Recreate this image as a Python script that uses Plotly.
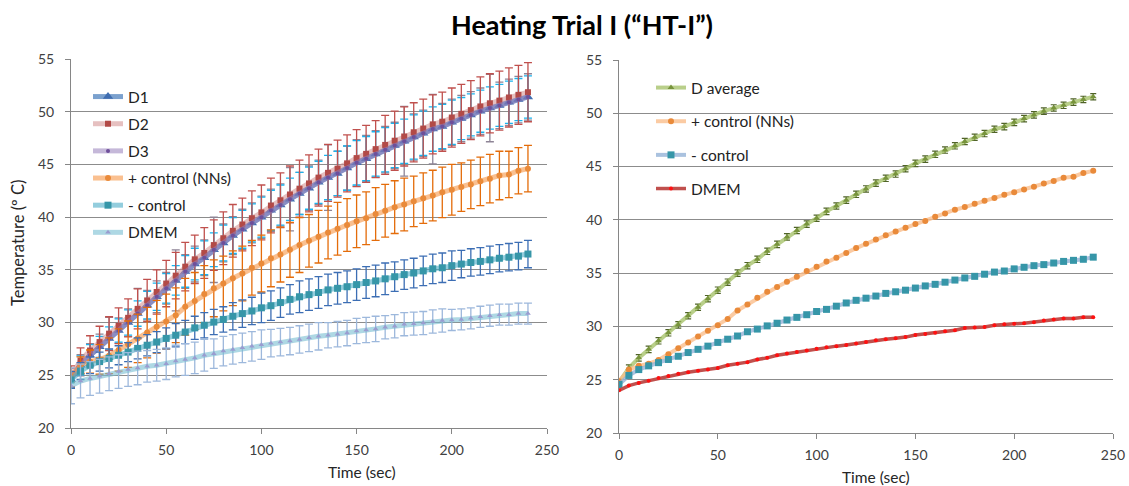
import plotly.graph_objects as go

# Sampling times (s)
time_s = list(range(0, 245, 5))

# Individual heating runs D1-D3 (deg C)
d1 = [24.6, 25.95, 26.9, 27.7, 28.5, 29.25, 30.0, 30.85, 31.65, 32.45,
      33.25, 34.0, 34.85, 35.55, 36.15, 36.9, 37.55, 38.25, 38.85, 39.45,
      40.0, 40.65, 41.15, 41.7, 42.25, 42.75, 43.3, 43.75, 44.15, 44.65,
      45.15, 45.55, 46.0, 46.4, 46.8, 47.2, 47.6, 47.95, 48.35, 48.6,
      49.0, 49.35, 49.7, 50.05, 50.35, 50.6, 50.9, 51.15, 51.4]
d2 = [24.9, 26.4, 27.35, 28.15, 28.95, 29.7, 30.45, 31.3, 32.1, 32.9,
      33.7, 34.45, 35.3, 36.0, 36.6, 37.35, 38.0, 38.7, 39.3, 39.9,
      40.45, 41.1, 41.6, 42.15, 42.7, 43.2, 43.75, 44.2, 44.6, 45.1,
      45.6, 46.0, 46.45, 46.85, 47.25, 47.65, 48.05, 48.4, 48.8, 49.05,
      49.45, 49.8, 50.15, 50.5, 50.8, 51.05, 51.35, 51.6, 51.85]
d3 = [24.75, 25.95, 26.9, 27.7, 28.5, 29.25, 30.0, 30.85, 31.65, 32.45,
      33.25, 34.0, 34.85, 35.55, 36.15, 36.9, 37.55, 38.25, 38.85, 39.45,
      40.0, 40.65, 41.15, 41.7, 42.25, 42.75, 43.3, 43.75, 44.15, 44.65,
      45.15, 45.55, 46.0, 46.4, 46.8, 47.2, 47.6, 47.95, 48.35, 48.6,
      49.0, 49.35, 49.7, 50.05, 50.35, 50.6, 50.9, 51.15, 51.4]

pos_ctrl = [24.85, 25.95, 26.3, 26.5, 26.85, 27.4, 27.95, 28.5, 29.05, 29.6,
            30.1, 30.7, 31.5, 32.05, 32.7, 33.25, 33.7, 34.2, 34.65, 35.2,
            35.6, 36.1, 36.45, 36.9, 37.35, 37.75, 38.15, 38.55, 38.9, 39.25,
            39.6, 39.9, 40.3, 40.6, 40.95, 41.2, 41.5, 41.8, 42.05, 42.35,
            42.6, 42.85, 43.1, 43.4, 43.65, 43.95, 44.05, 44.4, 44.6]
neg_ctrl = [24.55, 25.4, 25.95, 26.3, 26.6, 26.9, 27.2, 27.55, 27.85, 28.15,
            28.5, 28.8, 29.1, 29.5, 29.75, 30.05, 30.3, 30.6, 30.85, 31.1,
            31.4, 31.6, 31.9, 32.2, 32.45, 32.65, 32.85, 33.1, 33.25, 33.4,
            33.6, 33.8, 33.95, 34.15, 34.35, 34.55, 34.7, 34.9, 35.1, 35.2,
            35.4, 35.55, 35.7, 35.8, 35.95, 36.1, 36.2, 36.3, 36.5]
dmem = [24.0, 24.45, 24.7, 24.9, 25.15, 25.35, 25.55, 25.7, 25.85, 25.95,
        26.1, 26.35, 26.5, 26.65, 26.9, 27.05, 27.3, 27.45, 27.6, 27.75,
        27.9, 28.05, 28.15, 28.25, 28.4, 28.55, 28.7, 28.8, 28.9, 29.0,
        29.2, 29.3, 29.4, 29.55, 29.65, 29.85, 29.9, 29.95, 30.1, 30.2,
        30.25, 30.3, 30.4, 30.55, 30.65, 30.75, 30.75, 30.85, 30.85]

# Standard deviations
d1_err = [0.8, 0.9, 1.0, 1.0, 1.1, 1.1, 1.2, 1.2, 1.3, 1.3,
          1.4, 1.4, 1.5, 1.5, 1.6, 1.6, 1.7, 1.7, 1.8, 1.8,
          1.9, 1.9, 1.9, 2.0, 2.0, 2.0, 2.0, 2.1, 2.1, 2.1,
          2.1, 2.1, 2.1, 2.1, 2.1, 2.1, 2.1, 2.1, 2.1, 2.1,
          2.1, 2.0, 2.0, 2.0, 2.0, 2.0, 2.0, 2.0, 2.0]
d2_err = [1.0, 1.2, 1.4, 1.5, 1.6, 1.7, 1.8, 1.9, 2.0, 2.1,
          2.2, 2.2, 2.3, 2.3, 2.4, 2.4, 2.5, 2.5, 2.5, 2.6,
          2.6, 2.6, 2.6, 2.7, 2.7, 2.7, 2.7, 2.7, 2.7, 2.7,
          2.7, 2.7, 2.7, 2.8, 2.8, 2.8, 2.8, 2.8, 2.8, 2.8,
          2.8, 2.8, 2.8, 2.8, 2.8, 2.8, 2.8, 2.8, 2.8]
d3_err = [0.9, 1.0, 1.1, 1.2, 2.0, 1.2, 1.3, 2.4, 1.4, 1.5,
          1.5, 2.9, 1.6, 1.7, 1.7, 3.1, 1.8, 1.8, 1.9, 1.9,
          2.0, 2.0, 2.0, 3.0, 2.0, 2.1, 2.1, 3.1, 2.1, 2.1,
          2.2, 2.2, 2.2, 2.2, 2.2, 3.3, 2.2, 2.2, 3.3, 2.2,
          2.2, 2.2, 2.2, 2.2, 3.2, 2.2, 2.2, 2.2, 2.2]
pos_err = [0.5, 0.8, 1.1, 1.4, 1.7, 2.0, 2.2, 2.3, 2.4, 2.5,
           2.6, 2.6, 2.7, 2.7, 2.7, 2.7, 2.6, 2.6, 2.6, 2.6,
           2.7, 2.7, 2.6, 2.6, 2.6, 2.5, 2.5, 2.5, 2.5, 2.5,
           2.5, 2.5, 2.5, 2.5, 2.5, 2.5, 2.4, 2.4, 2.4, 2.4,
           2.4, 2.3, 2.3, 2.3, 2.3, 2.3, 2.2, 2.2, 2.2]
neg_err = [0.8, 0.8, 0.8, 0.9, 0.9, 0.9, 0.9, 1.0, 1.0, 1.0,
           1.0, 1.1, 1.1, 1.1, 1.2, 1.2, 1.2, 1.3, 1.3, 1.3,
           1.4, 1.4, 1.4, 1.4, 1.5, 1.5, 1.5, 1.5, 1.5, 1.5,
           1.5, 1.5, 1.5, 1.5, 1.4, 1.4, 1.4, 1.4, 1.4, 1.4,
           1.4, 1.3, 1.3, 1.3, 1.3, 1.3, 1.3, 1.3, 1.3]
dmem_err = [1.7, 1.6, 1.6, 1.6, 1.6, 1.6, 1.6, 1.6, 1.5, 1.5,
            1.5, 1.5, 1.5, 1.5, 1.5, 1.4, 1.4, 1.4, 1.4, 1.4,
            1.4, 1.3, 1.3, 1.3, 1.3, 1.3, 1.3, 1.2, 1.2, 1.2,
            1.2, 1.2, 1.2, 1.1, 1.1, 1.1, 1.1, 1.1, 1.1, 1.1,
            1.0, 1.0, 1.0, 1.0, 1.0, 1.0, 1.0, 1.0, 1.0]
davg_err = [0.3, 0.3, 0.3, 0.3, 0.3, 0.3, 0.3, 0.3, 0.3, 0.3,
            0.3, 0.3, 0.3, 0.3, 0.3, 0.3, 0.3, 0.3, 0.3, 0.3,
            0.3, 0.3, 0.3, 0.3, 0.3, 0.3, 0.3, 0.3, 0.3, 0.3,
            0.3, 0.3, 0.3, 0.3, 0.3, 0.3, 0.3, 0.3, 0.3, 0.3,
            0.3, 0.3, 0.3, 0.3, 0.3, 0.3, 0.3, 0.3, 0.3]

# Mean of the three D runs
d_avg = [round((a + b + c) / 3, 3) for a, b, c in zip(d1, d2, d3)]

FONT = "Lato"
W, H = 1129, 486

fig = go.Figure()


def err(vals, color, width=4, thick=1.3):
    return dict(type="data", array=vals, visible=True, color=color,
                thickness=thick, width=width)


# ---------------- left panel ----------------
# D3 error bars go underneath the other D series
fig.add_trace(go.Scatter(x=time_s, y=d3, mode="markers",
                         marker=dict(size=1, color="rgba(0,0,0,0)"),
                         error_y=err(d3_err, "#8E8496"),
                         showlegend=False, hoverinfo="skip",
                         xaxis="x", yaxis="y"))
fig.add_trace(go.Scatter(x=time_s, y=d1, name="D1", mode="lines+markers",
                         line=dict(color="rgba(79,129,189,0.75)", width=5),
                         marker=dict(symbol="triangle-up", size=9, color="#3F6DB0"),
                         error_y=err(d1_err, "#19B4F0"),
                         legend="legend", legendgroup="l1",
                         xaxis="x", yaxis="y"))
fig.add_trace(go.Scatter(x=time_s, y=d2, name="D2", mode="lines+markers",
                         line=dict(color="rgba(210,140,140,0.55)", width=5),
                         marker=dict(symbol="square", size=6, color="#B24A47"),
                         error_y=err(d2_err, "#C0504D"),
                         legend="legend", legendgroup="l2",
                         xaxis="x", yaxis="y"))
fig.add_trace(go.Scatter(x=time_s, y=d3, name="D3", mode="lines+markers",
                         line=dict(color="rgba(150,125,185,0.55)", width=5),
                         marker=dict(symbol="circle", size=4, color="#6E4F9A"),
                         legend="legend", legendgroup="l3",
                         xaxis="x", yaxis="y"))
fig.add_trace(go.Scatter(x=time_s, y=pos_ctrl, name="+ control (NNs)", mode="lines+markers",
                         line=dict(color="rgba(247,150,70,0.6)", width=5),
                         marker=dict(symbol="circle", size=6, color="#E98A3A"),
                         error_y=err(pos_err, "#E46C0A"),
                         legend="legend", legendgroup="l4",
                         xaxis="x", yaxis="y"))
fig.add_trace(go.Scatter(x=time_s, y=neg_ctrl, name="- control", mode="lines+markers",
                         line=dict(color="rgba(75,172,198,0.6)", width=5),
                         marker=dict(symbol="square", size=7, color="#3696A8"),
                         error_y=err(neg_err, "#3C6EB4"),
                         legend="legend", legendgroup="l5",
                         xaxis="x", yaxis="y"))
fig.add_trace(go.Scatter(x=time_s, y=dmem, name="DMEM", mode="lines+markers",
                         line=dict(color="rgba(120,190,210,0.6)", width=5),
                         marker=dict(symbol="triangle-up", size=5, color="#9A9CD0"),
                         error_y=err(dmem_err, "#9DB8DC"),
                         legend="legend", legendgroup="l6",
                         xaxis="x", yaxis="y"))

# ---------------- right panel ----------------
fig.add_trace(go.Scatter(x=time_s, y=d_avg, name="D average", mode="lines+markers",
                         line=dict(color="rgba(155,187,89,0.7)", width=4),
                         marker=dict(symbol="triangle-up", size=6, color="#77933C"),
                         error_y=err(davg_err, "#4F6228", width=3, thick=1.2),
                         legend="legend2", legendgroup="r1",
                         xaxis="x2", yaxis="y2"))
fig.add_trace(go.Scatter(x=time_s, y=pos_ctrl, name="+ control (NNs)", mode="lines+markers",
                         line=dict(color="rgba(250,190,140,0.8)", width=4),
                         marker=dict(symbol="circle", size=6, color="#E98A3A"),
                         legend="legend2", legendgroup="r2",
                         xaxis="x2", yaxis="y2"))
fig.add_trace(go.Scatter(x=time_s, y=neg_ctrl, name="- control", mode="lines+markers",
                         line=dict(color="rgba(149,179,215,0.8)", width=4),
                         marker=dict(symbol="square", size=7, color="#3696A8"),
                         legend="legend2", legendgroup="r3",
                         xaxis="x2", yaxis="y2"))
fig.add_trace(go.Scatter(x=time_s, y=dmem, name="DMEM", mode="lines+markers",
                         line=dict(color="#C0504D", width=3.5),
                         marker=dict(symbol="circle", size=4, color="#FF1010"),
                         legend="legend2", legendgroup="r4",
                         xaxis="x2", yaxis="y2"))

x_left = [71 / W, 547 / W]
x_right = [619 / W, 1113 / W]
y_left = [1 - 428 / H, 1 - 59 / H]
y_right = [1 - 433 / H, 1 - 60 / H]

tick_font = dict(family=FONT, size=14, color="#404040")
title_font = dict(family=FONT, size=15.5, color="#262626")

axis_common = dict(
    range=[0, 250], dtick=50, showgrid=False, zeroline=False,
    showline=True, linecolor="#868686", linewidth=1,
    ticks="outside", ticklen=5, tickcolor="#868686",
    tickfont=tick_font, automargin=False, ticklabelstandoff=4,
)
yaxis_common = dict(
    range=[20, 55], dtick=5, showgrid=True, gridcolor="#8C8C8C", gridwidth=1,
    zeroline=False, showline=True, linecolor="#868686", linewidth=1,
    ticks="outside", ticklen=5, tickcolor="#868686",
    tickfont=tick_font, automargin=False, ticklabelstandoff=8,
)

legend_common = dict(
    bgcolor="rgba(0,0,0,0)", borderwidth=0, xanchor="left", yanchor="top",
    font=dict(family=FONT, size=15.5, color="#222222"), itemwidth=30,
    traceorder="grouped",
)

fig.update_layout(
    width=W, height=H,
    margin=dict(l=0, r=0, t=0, b=0),
    paper_bgcolor="white", plot_bgcolor="white",
    title=dict(text="<b>Heating Trial I (“HT-I”)</b>", x=582 / W, xanchor="center",
               y=1 - 26 / H, yanchor="middle",
               font=dict(family=FONT, size=27, color="#000000")),
    xaxis=dict(domain=x_left, anchor="y", **axis_common),
    yaxis=dict(domain=y_left, anchor="x", **yaxis_common),
    xaxis2=dict(domain=x_right, anchor="y2", **axis_common),
    yaxis2=dict(domain=y_right, anchor="x2", **yaxis_common),
    legend=dict(x=88 / W, y=1 - 80 / H, tracegroupgap=4, **legend_common),
    legend2=dict(x=651 / W, y=1 - 71 / H, tracegroupgap=10.5, **legend_common),
    showlegend=True,
    annotations=[
        dict(text="Time (sec)", x=362 / W, y=1 - 472 / H, xref="paper", yref="paper",
             xanchor="center", yanchor="middle", showarrow=False, font=title_font),
        dict(text="Time (sec)", x=876 / W, y=1 - 477 / H, xref="paper", yref="paper",
             xanchor="center", yanchor="middle", showarrow=False, font=title_font),
        dict(text="Temperature (º C)", x=18 / W, y=1 - 243 / H, xref="paper", yref="paper",
             xanchor="center", yanchor="middle", showarrow=False, textangle=-90,
             font=dict(family=FONT, size=16.5, color="#262626")),
    ],
)

fig.write_html("out.html")
